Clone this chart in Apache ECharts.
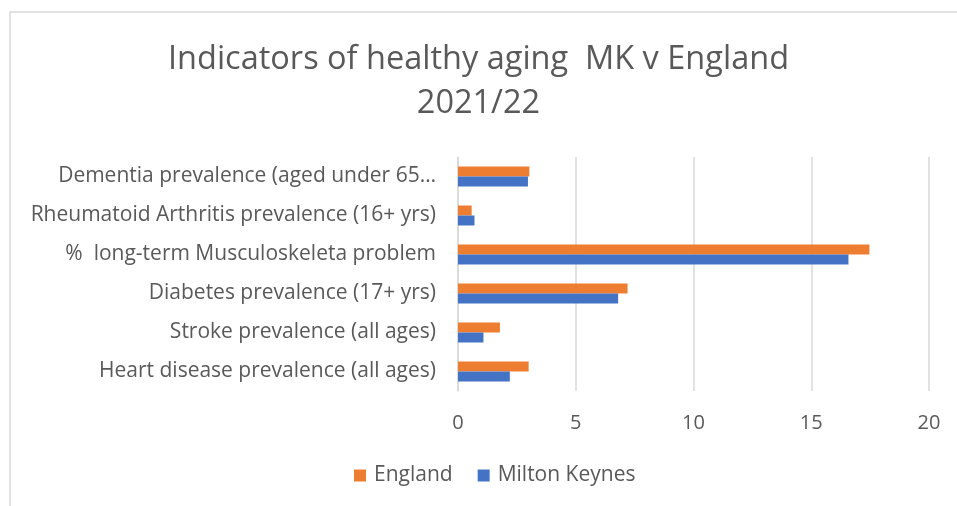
<!DOCTYPE html>
<html>
<head>
<meta charset="utf-8">
<script src="https://cdn.jsdelivr.net/npm/echarts@6/dist/echarts.min.js"></script>
<style>
  html, body { margin: 0; padding: 0; background: #fff; }
  #chart { width: 957px; height: 506px; }
</style>
</head>
<body>
<div id="chart"></div>
<script>
// Indicator names, listed bottom to top as they sit on the axis
const categories = [
  'Heart disease prevalence (all ages)',
  'Stroke prevalence (all ages)',
  'Diabetes prevalence (17+ yrs)',
  '%  long-term Musculoskeleta problem',
  'Rheumatoid Arthritis prevalence (16+ yrs)',
  'Dementia prevalence (aged under 65…'
];
const englandValues = [3.0, 1.78, 7.2, 17.47, 0.58, 3.03];
const miltonKeynesValues = [2.2, 1.08, 6.8, 16.58, 0.7, 2.97];
const xTicks = { min: 0, max: 20, interval: 5 };

const textColor = '#595959';
const font = "'Open Sans', 'Liberation Sans', sans-serif";

const chart = echarts.init(document.getElementById('chart'));
chart.setOption({
  backgroundColor: '#fff',
  animation: false,
  title: {
    text: 'Indicators of healthy aging  MK v England\n2021/22',
    left: 'center',
    top: 33,
    textStyle: {
      fontFamily: font,
      fontWeight: 'normal',
      fontSize: 32.5,
      lineHeight: 44,
      color: textColor
    }
  },
  graphic: [{
    type: 'rect',
    shape: { x: 10, y: 12, width: 960, height: 520 },
    style: { fill: 'none', stroke: '#d9d9d9', lineWidth: 1.5 },
    silent: true,
    z: -1
  }],
  legend: {
    bottom: 15,
    left: 349,
    itemWidth: 12,
    itemHeight: 12,
    itemGap: 25,
    icon: 'rect',
    textStyle: { fontFamily: font, fontSize: 21, color: textColor, padding: [0, 0, 0, 3] }
  },
  grid: { left: 458, right: 28, top: 157, bottom: 115 },
  xAxis: {
    type: 'value',
    min: xTicks.min,
    max: xTicks.max,
    interval: xTicks.interval,
    axisLine: { show: false },
    axisTick: { show: false },
    splitLine: { lineStyle: { color: '#d9d9d9', width: 1.5 } },
    axisLabel: { fontFamily: font, fontSize: 20, color: textColor, margin: 22 }
  },
  yAxis: {
    type: 'category',
    data: categories,
    axisLine: { show: true, lineStyle: { color: '#d9d9d9', width: 1.5 } },
    axisTick: { show: false },
    axisLabel: {
      fontFamily: font,
      fontSize: 21,
      color: textColor,
      margin: 22,
      padding: [8, 0, 0, 0]
    }
  },
  series: [
    {
      name: 'England',
      type: 'bar',
      data: englandValues,
      barWidth: 10,
      barGap: '0%',
      itemStyle: { color: '#ED7D31' }
    },
    {
      name: 'Milton Keynes',
      type: 'bar',
      data: miltonKeynesValues,
      barWidth: 10,
      barGap: '0%',
      itemStyle: { color: '#4472C4' }
    }
  ]
});
</script>
</body>
</html>
